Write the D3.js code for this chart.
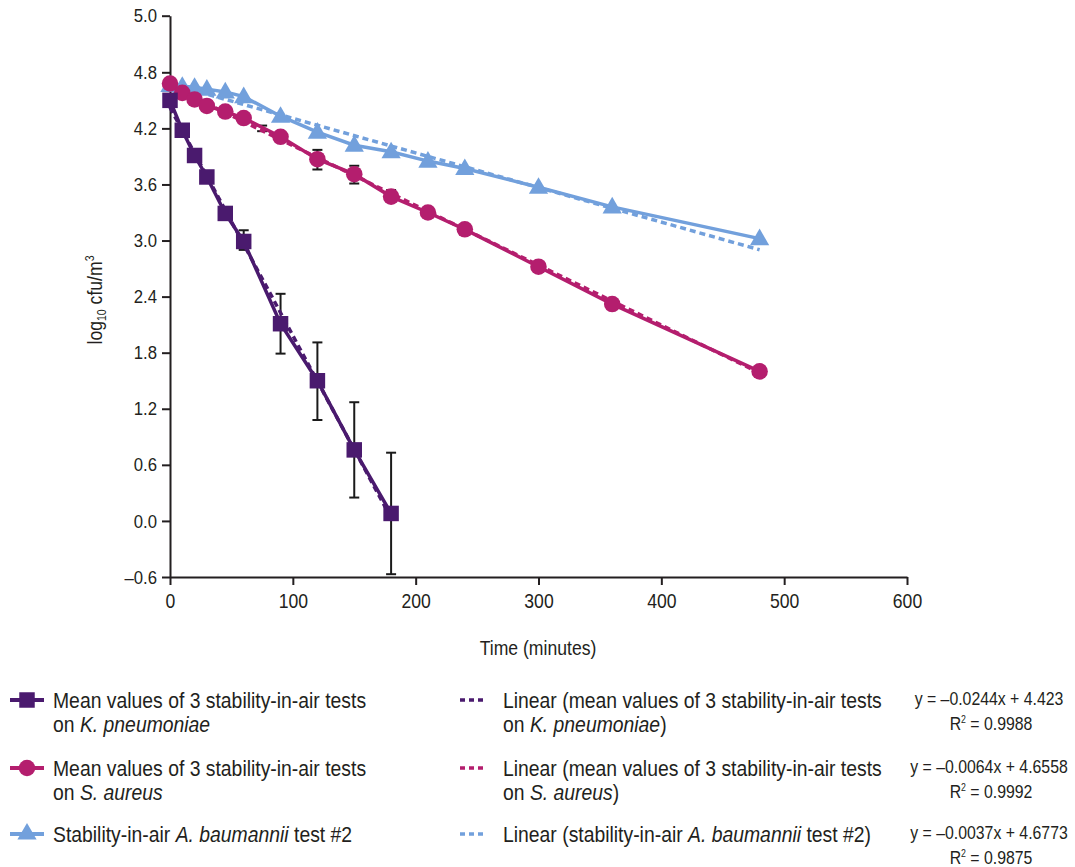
<!DOCTYPE html>
<html>
<head>
<meta charset="utf-8">
<script src="https://cdn.jsdelivr.net/npm/d3@7"></script>
<style>
  body { margin: 0; background: #fff; }
  svg text { font-family: "Liberation Sans", Arial, sans-serif; fill: #231f20; }
</style>
</head>
<body>
<div id="chart"></div>
<script>
// time points (minutes)
const kpTime = [0, 10, 20, 30, 45, 60, 90, 120, 150, 180];
const kpMean = [4.50, 4.18, 3.91, 3.68, 3.29, 2.99, 2.11, 1.50, 0.76, 0.08];
const kpErrLo = [4.50, 4.18, 3.91, 3.68, 3.29, 2.90, 1.79, 1.08, 0.25, -0.57];
const kpErrHi = [4.50, 4.18, 3.91, 3.68, 3.29, 3.11, 2.43, 1.91, 1.27, 0.73];

const saTime = [0, 10, 20, 30, 45, 60, 90, 120, 150, 180, 210, 240, 300, 360, 480];
const saMean = [4.68, 4.58, 4.51, 4.44, 4.38, 4.31, 4.11, 3.87, 3.71, 3.47, 3.30, 3.12, 2.72, 2.32, 1.60];
// error bars drawn for S. aureus (the one at 75 min has no marker in the figure)
const saErrTime = [75, 90, 120, 150, 180];
const saErrLo = [4.17, 4.06, 3.76, 3.61, 3.42];
const saErrHi = [4.23, 4.15, 3.97, 3.80, 3.54];

const abTime = [0, 10, 20, 30, 45, 60, 90, 120, 150, 180, 210, 240, 300, 360, 480];
const abVal = [4.66, 4.65, 4.64, 4.62, 4.59, 4.54, 4.33, 4.16, 4.02, 3.95, 3.85, 3.77, 3.57, 3.36, 3.02];

// linear fits as printed in the legend: [slope, intercept, xEnd]
const kpFit = [-0.0244, 4.423, 180];
const saFit = [-0.0064, 4.6558, 480];
const abFit = [-0.0037, 4.6773, 480];

const xTicks = [0, 100, 200, 300, 400, 500, 600];
const yTicks = [-0.6, 0, 0.6, 1.2, 1.8, 2.4, 3.0, 3.6, 4.2, 4.8, 5.0];
const yTickLabels = ["–0.6", "0.0", "0.6", "1.2", "1.8", "2.4", "3.0", "3.6", "4.2", "4.8", "5.0"];

const colKp = "#4a1a6e", colSa = "#b41e6e", colAb = "#72a0dc";

const W = 1075, H = 867;
const NARROW = 0.88; // squeeze Liberation Sans to look like the condensed face of the original
const svg = d3.select("#chart").append("svg").attr("width", W).attr("height", H);

// the top segment of the axis (4.8 to 5.0) is drawn stretched, as in the original
const x = d3.scaleLinear().domain([0, 600]).range([170, 907]);
const y = d3.scaleLinear().domain([-0.6, 4.8, 5.0]).range([577, 72.3, 15.7]);

const axisCol = "#231f20";

function narrowText(xp, yp, size, anchor) {
  return svg.append("text")
    .attr("transform", `translate(${xp},${yp}) scale(${NARROW},1)`)
    .attr("font-size", size).attr("text-anchor", anchor || "start");
}

// axes
const gx = svg.append("g").attr("transform", "translate(0,577)")
  .call(d3.axisBottom(x).tickValues(xTicks).tickSize(8).tickSizeOuter(0).tickPadding(6).tickFormat(d3.format("d")));
const gy = svg.append("g").attr("transform", "translate(170,0)")
  .call(d3.axisLeft(y).tickValues(yTicks).tickSize(8).tickSizeOuter(0).tickFormat((d, i) => yTickLabels[i]));
[gx, gy].forEach(g => {
  g.select(".domain").attr("stroke", axisCol).attr("stroke-width", 2);
  g.selectAll(".tick line").attr("stroke", axisCol).attr("stroke-width", 2);
  g.selectAll(".tick text").attr("fill", axisCol)
    .style("font-family", '"Liberation Sans", Arial, sans-serif')
    .attr("transform", `scale(${NARROW},1)`);
});
gx.selectAll(".tick text").attr("font-size", 20).attr("dy", "0.85em");
gy.selectAll(".tick text").attr("font-size", 19).attr("x", -13 / NARROW);

// axis titles
narrowText(538, 655, 20, "middle").text("Time (minutes)");
const yl = svg.append("text")
  .attr("transform", `translate(102,300) rotate(-90) scale(${NARROW},1)`)
  .attr("text-anchor", "middle").attr("font-size", 20);
yl.append("tspan").text("log");
yl.append("tspan").attr("font-size", 12).attr("dy", 4).text("10");
yl.append("tspan").attr("dy", -4).text(" cfu/m");
yl.append("tspan").attr("font-size", 12).attr("dy", -8).text("3");

// trend lines
function fitLine(fit, col) {
  const pts = [0, fit[2]].map(t => [t, fit[0] * t + fit[1]]);
  svg.append("path").datum(pts)
    .attr("d", d3.line().x(d => x(d[0])).y(d => y(d[1])))
    .attr("fill", "none").attr("stroke", col).attr("stroke-width", 3.5)
    .attr("stroke-dasharray", "6,4");
}

function series(times, vals, col) {
  const pts = times.map((t, i) => [t, vals[i]]);
  svg.append("path").datum(pts)
    .attr("d", d3.line().x(d => x(d[0])).y(d => y(d[1])))
    .attr("fill", "none").attr("stroke", col).attr("stroke-width", 3.5);
  return pts;
}

function errorBars(times, lo, hi) {
  const g = svg.append("g").attr("stroke", "#1a1a1a").attr("stroke-width", 2);
  times.forEach((t, i) => {
    if (hi[i] - lo[i] < 0.001) return;
    g.append("line").attr("x1", x(t)).attr("x2", x(t)).attr("y1", y(lo[i])).attr("y2", y(hi[i]));
    [lo[i], hi[i]].forEach(v => g.append("line")
      .attr("x1", x(t) - 5).attr("x2", x(t) + 5).attr("y1", y(v)).attr("y2", y(v)));
  });
}

const symTri = d3.symbol().type(d3.symbolTriangle).size(160);
const symSq = d3.symbol().type(d3.symbolSquare).size(240);
const symCirc = d3.symbol().type(d3.symbolCircle).size(215);

// A. baumannii
const abPts = series(abTime, abVal, colAb);
fitLine(abFit, colAb);
svg.append("g").selectAll("path").data(abPts).join("path")
  .attr("transform", d => `translate(${x(d[0])},${y(d[1]) + 1})`)
  .attr("d", symTri).attr("fill", colAb);

// S. aureus
errorBars(saErrTime, saErrLo, saErrHi);
const saPts = series(saTime, saMean, colSa);
fitLine(saFit, colSa);
svg.append("g").selectAll("path").data(saPts).join("path")
  .attr("transform", d => `translate(${x(d[0])},${y(d[1])})`)
  .attr("d", symCirc).attr("fill", colSa);

// K. pneumoniae
errorBars(kpTime, kpErrLo, kpErrHi);
const kpPts = series(kpTime, kpMean, colKp);
fitLine(kpFit, colKp);
svg.append("g").selectAll("path").data(kpPts).join("path")
  .attr("transform", d => `translate(${x(d[0])},${y(d[1])})`)
  .attr("d", symSq).attr("fill", colKp);

// legend
const legend = [
  { col: colKp, sym: symSq, rowY: 700,
    label: [["Mean values of 3 stability-in-air tests"], ["on ", ["K. pneumoniae"]]],
    fitLabel: [["Linear (mean values of 3 stability-in-air tests"], ["on ", ["K. pneumoniae"], ")"]],
    r2: "0.9988", eq: "y = –0.0244x + 4.423" },
  { col: colSa, sym: symCirc, rowY: 768,
    label: [["Mean values of 3 stability-in-air tests"], ["on ", ["S. aureus"]]],
    fitLabel: [["Linear (mean values of 3 stability-in-air tests"], ["on ", ["S. aureus"], ")"]],
    r2: "0.9992", eq: "y = –0.0064x + 4.6558" },
  { col: colAb, sym: symTri, rowY: 834,
    label: [["Stability-in-air ", ["A. baumannii"], " test #2"]],
    fitLabel: [["Linear (stability-in-air ", ["A. baumannii"], " test #2)"]],
    r2: "0.9875", eq: "y = –0.0037x + 4.6773" }
];

function richText(xp, yp, lines) {
  lines.forEach((parts, li) => {
    const t = narrowText(xp, yp + 8 + li * 24, 22);
    parts.forEach(p => {
      if (Array.isArray(p)) t.append("tspan").attr("font-style", "italic").text(p[0]);
      else t.append("tspan").text(p);
    });
  });
}

legend.forEach(l => {
  svg.append("line").attr("x1", 10).attr("x2", 44).attr("y1", l.rowY).attr("y2", l.rowY)
    .attr("stroke", l.col).attr("stroke-width", 4);
  svg.append("path").attr("transform", `translate(27,${l.rowY})`).attr("d", l.sym).attr("fill", l.col);
  richText(53, l.rowY, l.label);

  svg.append("line").attr("x1", 460).attr("x2", 484).attr("y1", l.rowY).attr("y2", l.rowY)
    .attr("stroke", l.col).attr("stroke-width", 3.5).attr("stroke-dasharray", "5,4");
  richText(503, l.rowY, l.fitLabel);

  narrowText(989, l.rowY + 5, 18, "middle").text(l.eq);
  const r = narrowText(991, l.rowY + 30, 18, "middle");
  r.append("tspan").text("R");
  r.append("tspan").attr("font-size", 10).attr("dy", -7).text("2");
  r.append("tspan").attr("dy", 7).text(" = " + l.r2);
});
</script>
</body>
</html>
